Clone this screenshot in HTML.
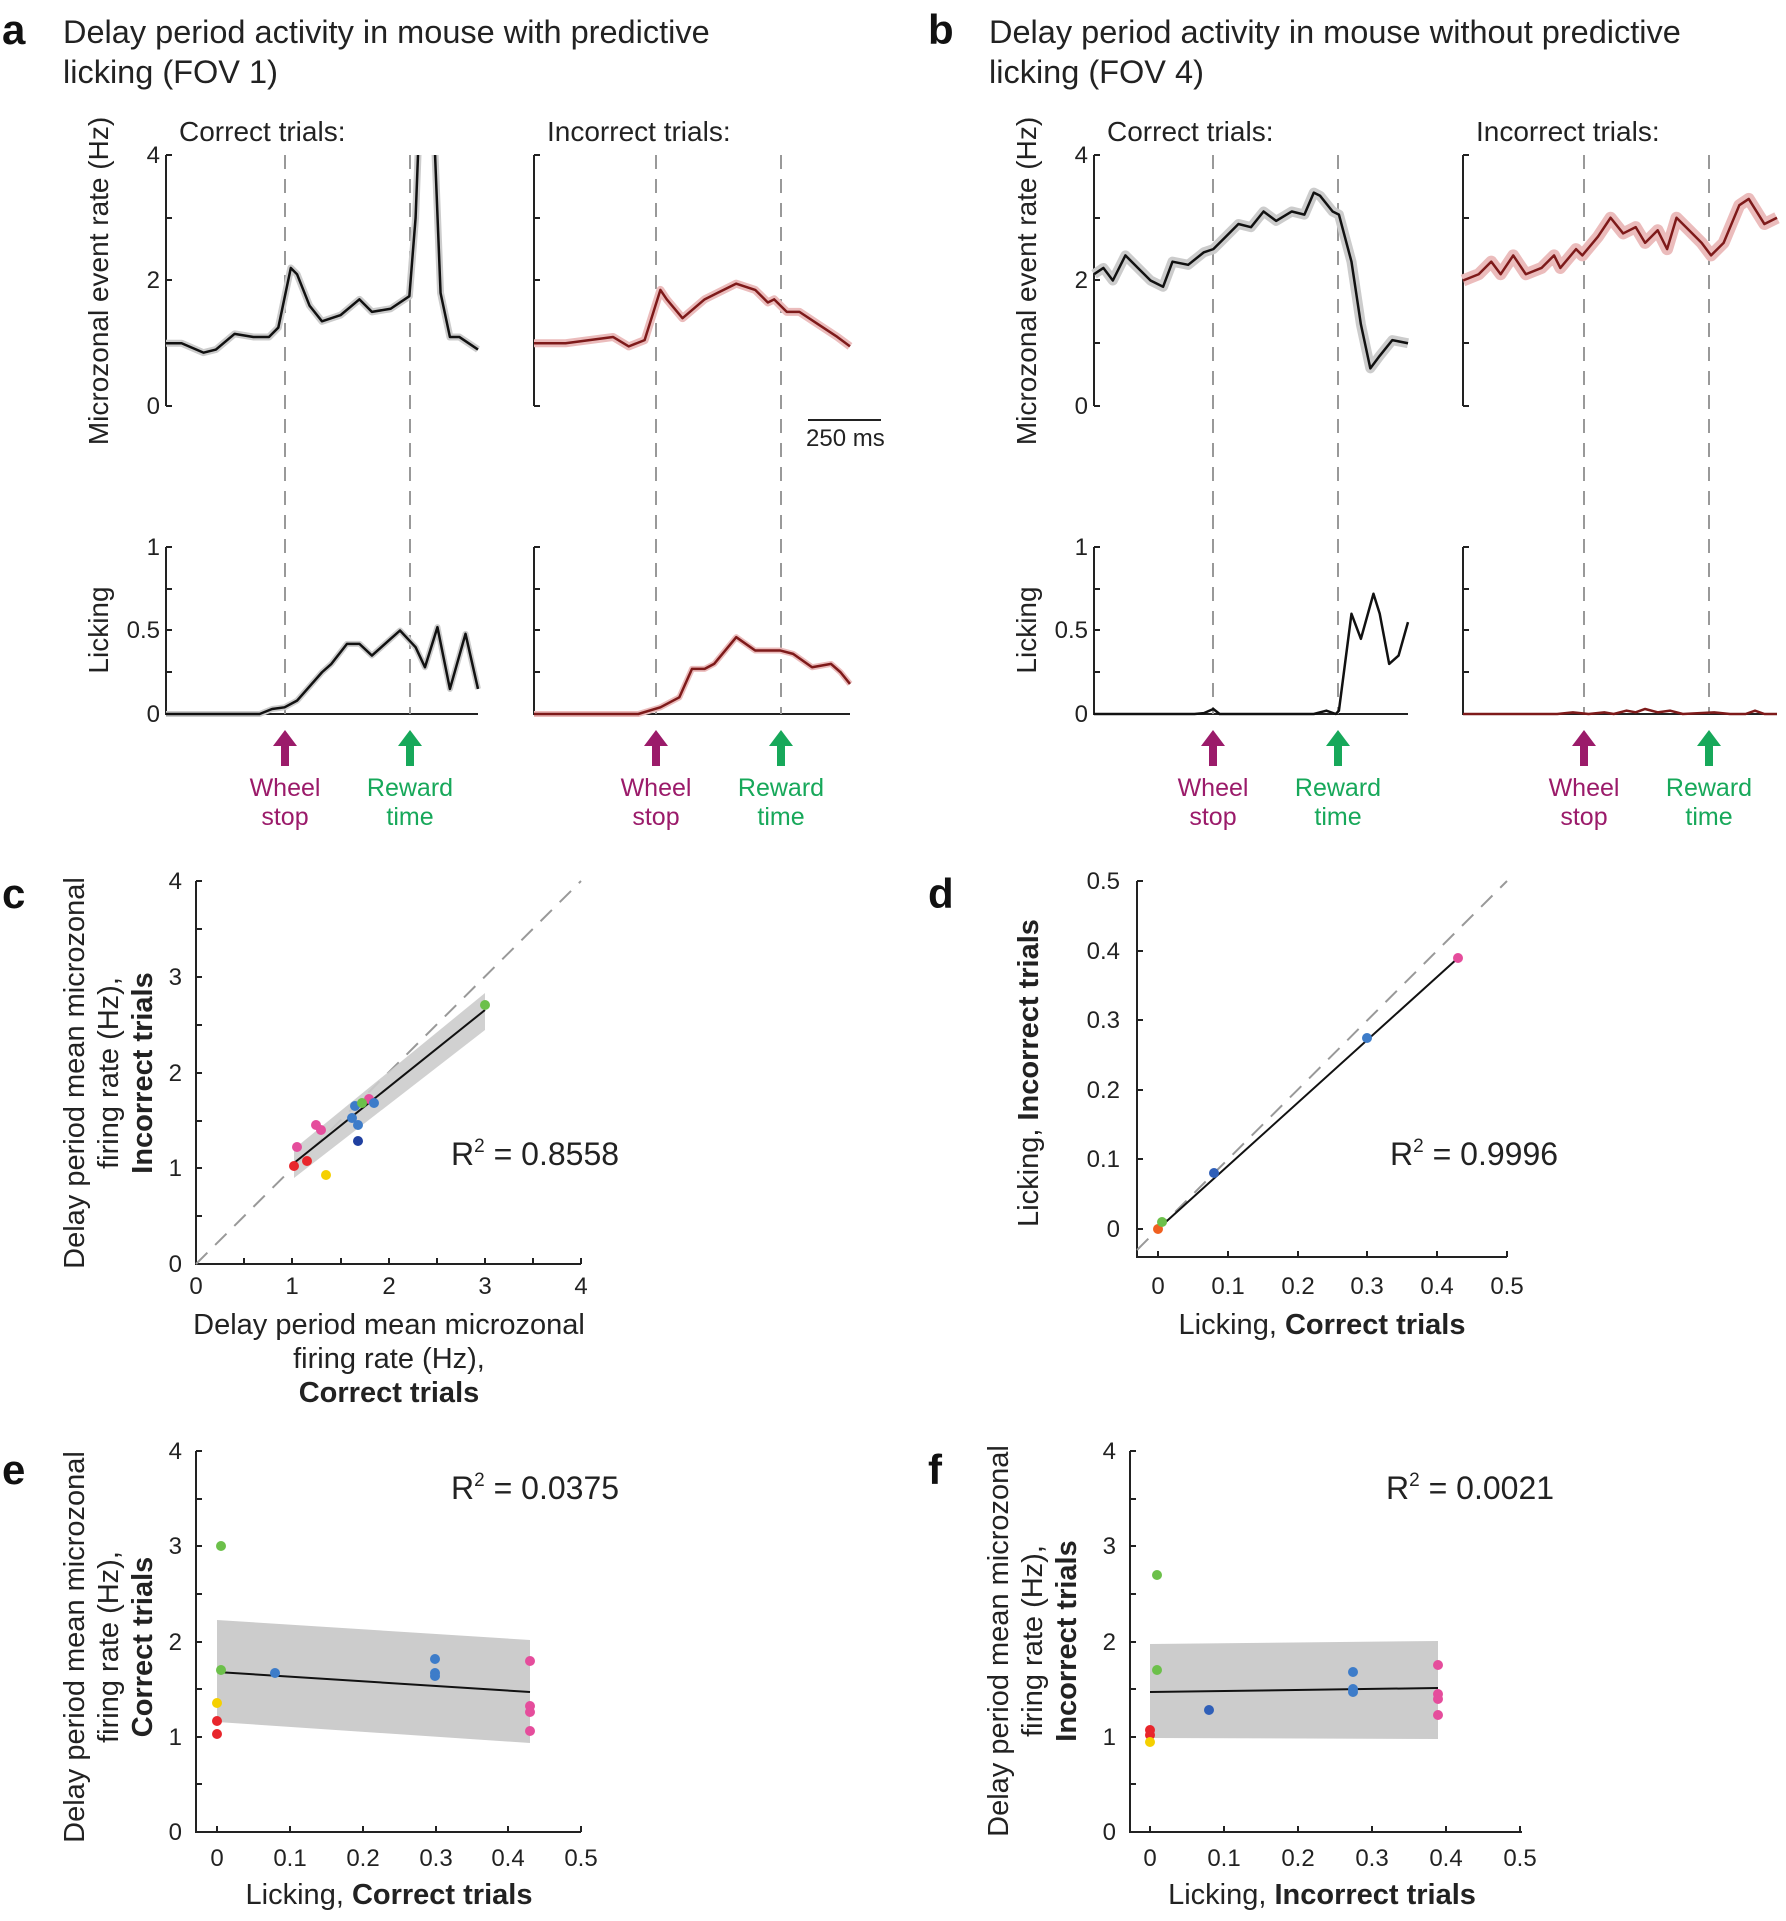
<!DOCTYPE html>
<html><head><meta charset="utf-8"><style>
html,body{margin:0;padding:0;background:#fff}
svg{display:block;font-family:"Liberation Sans",Arial,sans-serif}
.t{font-size:24px;fill:#222}
.l{font-size:28px;fill:#222}
.l2{font-size:29px;fill:#222}
.ln{vector-effect:non-scaling-stroke;fill:none;stroke-linejoin:round}
</style></head><body>
<svg width="1786" height="1921" viewBox="0 0 1786 1921" xmlns="http://www.w3.org/2000/svg">
<defs>
<g id="arrP"><path d="M-4,36 L-4,16 L-12,16 L0,0 L12,16 L4,16 L4,36 Z" fill="#9b1b6a"/></g>
<g id="arrG"><path d="M-4,36 L-4,16 L-12,16 L0,0 L12,16 L4,16 L4,36 Z" fill="#17a85a"/></g>
<clipPath id="clipA"><rect x="160" y="155" width="330" height="260"/></clipPath>
</defs>
<!-- titles -->
<text x="2" y="44" font-size="42" font-weight="bold" fill="#111">a</text>
<text x="63" y="43" font-size="32.5" fill="#222">Delay period activity in mouse with predictive</text>
<text x="63" y="83" font-size="32.5" fill="#222">licking (FOV 1)</text>
<text x="928" y="44" font-size="42" font-weight="bold" fill="#111">b</text>
<text x="989" y="43" font-size="32.5" fill="#222">Delay period activity in mouse without predictive</text>
<text x="989" y="83" font-size="32.5" fill="#222">licking (FOV 4)</text>

<text x="179" y="141" class="l">Correct trials:</text>
<text x="547" y="141" class="l">Incorrect trials:</text>
<text x="1107" y="141" class="l">Correct trials:</text>
<text x="1476" y="141" class="l">Incorrect trials:</text>

<text transform="translate(108,281) rotate(-90)" text-anchor="middle" class="l">Microzonal event rate (Hz)</text>
<text transform="translate(108,630) rotate(-90)" text-anchor="middle" class="l">Licking</text>
<text transform="translate(1036,281) rotate(-90)" text-anchor="middle" class="l">Microzonal event rate (Hz)</text>
<text transform="translate(1036,630) rotate(-90)" text-anchor="middle" class="l">Licking</text>

<g stroke="#222" stroke-width="2" fill="none">
<path d="M166,155 V406 M166,155 h6 M166,218 h6 M166,280 h6 M166,343 h6 M166,406 h6"/>
<path d="M534,155 V406 M534,155 h6 M534,218 h6 M534,280 h6 M534,343 h6 M534,406 h6"/>
<path d="M1094,155 V406 M1094,155 h6 M1094,218 h6 M1094,280 h6 M1094,343 h6 M1094,406 h6"/>
<path d="M1463,155 V406 M1463,155 h6 M1463,218 h6 M1463,280 h6 M1463,343 h6 M1463,406 h6"/>
<path d="M166,547 V714 H478 M166,547 h6 M166,589 h6 M166,630 h6 M166,672 h6"/>
<path d="M534,547 V714 H850 M534,547 h6 M534,589 h6 M534,630 h6 M534,672 h6"/>
<path d="M1094,547 V714 H1408 M1094,547 h6 M1094,589 h6 M1094,630 h6 M1094,672 h6"/>
<path d="M1463,547 V714 H1777 M1463,547 h6 M1463,589 h6 M1463,630 h6 M1463,672 h6"/>
</g>
<g class="t" text-anchor="end">
<text x="160" y="163">4</text><text x="160" y="288">2</text><text x="160" y="414">0</text>
<text x="1088" y="163">4</text><text x="1088" y="288">2</text><text x="1088" y="414">0</text>
<text x="160" y="555">1</text><text x="160" y="638">0.5</text><text x="160" y="722">0</text>
<text x="1088" y="555">1</text><text x="1088" y="638">0.5</text><text x="1088" y="722">0</text>
</g>
<g stroke="#999" stroke-width="2" stroke-dasharray="14,10">
<path d="M285,155V714 M410,155V714 M656,155V714 M781,155V714 M1213,155V714 M1338,155V714 M1584,155V714 M1709,155V714"/>
</g>
<path d="M808,420 H881" stroke="#222" stroke-width="2"/>
<text x="806" y="446" class="t">250 ms</text>

<g clip-path="url(#clipA)">
<g transform="translate(166,406) scale(3.12,-62.75)">
<polyline class="ln" stroke="#ccc" stroke-width="7" points="0,1 5,1 12,0.85 16,0.9 22,1.15 28,1.1 33,1.1 36,1.25 40,2.2 42,2.1 46,1.6 50,1.35 56,1.45 62,1.7 66,1.5 72,1.55 78,1.75 80,3 81,4.3 86,4.3 88,1.8 91,1.1 94,1.1 100,0.9"/>
<polyline class="ln" stroke="#111" stroke-width="2.5" points="0,1 5,1 12,0.85 16,0.9 22,1.15 28,1.1 33,1.1 36,1.25 40,2.2 42,2.1 46,1.6 50,1.35 56,1.45 62,1.7 66,1.5 72,1.55 78,1.75 80,3 81,4.3 86,4.3 88,1.8 91,1.1 94,1.1 100,0.9"/>
</g>
</g>
<g transform="translate(534,406) scale(3.16,-62.75)">
<polyline class="ln" stroke="#ebbcbc" stroke-width="8" points="0,1 10,1 25,1.1 30,0.95 35,1.05 40,1.85 42,1.7 47,1.4 54,1.7 58,1.8 64,1.95 70,1.85 74,1.65 76,1.7 80,1.5 84,1.5 90,1.3 96,1.1 100,0.95"/>
<polyline class="ln" stroke="#7e1a1a" stroke-width="2.5" points="0,1 10,1 25,1.1 30,0.95 35,1.05 40,1.85 42,1.7 47,1.4 54,1.7 58,1.8 64,1.95 70,1.85 74,1.65 76,1.7 80,1.5 84,1.5 90,1.3 96,1.1 100,0.95"/>
</g>
<g transform="translate(166,714) scale(3.12,-167)">
<polyline class="ln" stroke="#ccc" stroke-width="6" points="0,0 30,0 34,0.03 38,0.04 42,0.08 50,0.25 53,0.3 58,0.42 62,0.42 66,0.35 72,0.45 75,0.5 80,0.4 83,0.28 87,0.52 91,0.15 96,0.48 100,0.15"/>
<polyline class="ln" stroke="#111" stroke-width="2.5" points="0,0 30,0 34,0.03 38,0.04 42,0.08 50,0.25 53,0.3 58,0.42 62,0.42 66,0.35 72,0.45 75,0.5 80,0.4 83,0.28 87,0.52 91,0.15 96,0.48 100,0.15"/>
</g>
<g transform="translate(534,714) scale(3.16,-167)">
<polyline class="ln" stroke="#ebbcbc" stroke-width="6" points="0,0 33,0 40,0.04 46,0.1 50,0.27 54,0.27 57,0.3 64,0.46 70,0.38 78,0.38 82,0.36 88,0.28 94,0.3 97,0.25 100,0.18"/>
<polyline class="ln" stroke="#7e1a1a" stroke-width="2.5" points="0,0 33,0 40,0.04 46,0.1 50,0.27 54,0.27 57,0.3 64,0.46 70,0.38 78,0.38 82,0.36 88,0.28 94,0.3 97,0.25 100,0.18"/>
</g>
<g transform="translate(1094,406) scale(3.14,-62.75)">
<polyline class="ln" stroke="#ccc" stroke-width="10" points="0,2.1 3,2.2 6,2 10,2.4 14,2.2 18,2 22,1.9 25,2.3 30,2.25 35,2.45 38,2.5 42,2.7 46,2.9 50,2.85 54,3.1 58,2.95 63,3.1 67,3.05 70,3.4 72,3.35 76,3.1 78,3.05 82,2.3 85,1.3 88,0.6 91,0.8 95,1.05 100,1"/>
<polyline class="ln" stroke="#111" stroke-width="2.5" points="0,2.1 3,2.2 6,2 10,2.4 14,2.2 18,2 22,1.9 25,2.3 30,2.25 35,2.45 38,2.5 42,2.7 46,2.9 50,2.85 54,3.1 58,2.95 63,3.1 67,3.05 70,3.4 72,3.35 76,3.1 78,3.05 82,2.3 85,1.3 88,0.6 91,0.8 95,1.05 100,1"/>
</g>
<g transform="translate(1463,406) scale(3.14,-62.75)">
<polyline class="ln" stroke="#ebbcbc" stroke-width="12" points="0,2 5,2.1 9,2.3 12,2.1 16,2.4 20,2.1 25,2.2 29,2.4 31,2.2 36,2.5 38,2.4 43,2.7 47,3 51,2.75 55,2.85 58,2.6 62,2.8 65,2.5 68,3 72,2.8 76,2.6 79,2.4 83,2.6 88,3.2 91,3.3 96,2.9 100,3"/>
<polyline class="ln" stroke="#7e1a1a" stroke-width="2.5" points="0,2 5,2.1 9,2.3 12,2.1 16,2.4 20,2.1 25,2.2 29,2.4 31,2.2 36,2.5 38,2.4 43,2.7 47,3 51,2.75 55,2.85 58,2.6 62,2.8 65,2.5 68,3 72,2.8 76,2.6 79,2.4 83,2.6 88,3.2 91,3.3 96,2.9 100,3"/>
</g>
<g transform="translate(1094,714) scale(3.14,-167)">
<polyline class="ln" stroke="#111" stroke-width="2.5" points="0,0 32,0 35,0.005 38,0.03 40,0 70,0 74,0.02 77,0 78,0.02 82,0.6 85,0.45 89,0.72 91,0.6 94,0.3 97,0.35 100,0.55"/>
</g>
<g transform="translate(1463,714) scale(3.14,-167)">
<polyline class="ln" stroke="#7e1a1a" stroke-width="2.5" points="0,0 30,0 35,0.01 40,0 45,0.01 48,0 52,0.02 55,0.01 58,0.03 62,0.01 66,0.02 70,0 80,0.01 85,0 90,0 93,0.02 96,0 100,0"/>
</g>
<use href="#arrP" x="285" y="730"/><use href="#arrG" x="410" y="730"/>
<use href="#arrP" x="656" y="730"/><use href="#arrG" x="781" y="730"/>
<use href="#arrP" x="1213" y="730"/><use href="#arrG" x="1338" y="730"/>
<use href="#arrP" x="1584" y="730"/><use href="#arrG" x="1709" y="730"/>
<g font-size="25" text-anchor="middle">
<g fill="#9b1b6a"><text x="285" y="796">Wheel</text><text x="285" y="825">stop</text>
<text x="656" y="796">Wheel</text><text x="656" y="825">stop</text>
<text x="1213" y="796">Wheel</text><text x="1213" y="825">stop</text>
<text x="1584" y="796">Wheel</text><text x="1584" y="825">stop</text></g>
<g fill="#17a85a"><text x="410" y="796">Reward</text><text x="410" y="825">time</text>
<text x="781" y="796">Reward</text><text x="781" y="825">time</text>
<text x="1338" y="796">Reward</text><text x="1338" y="825">time</text>
<text x="1709" y="796">Reward</text><text x="1709" y="825">time</text></g>
</g>

<!-- panel c -->
<text x="2" y="908" font-size="42" font-weight="bold" fill="#111">c</text>
<g stroke="#222" stroke-width="2" fill="none">
<path d="M196,881 V1264 H581"/>
<path d="M196,881 h6 M196,929 h6 M196,977 h6 M196,1025 h6 M196,1073 h6 M196,1121 h6 M196,1168 h6 M196,1216 h6 M244,1264 v-6 M292,1264 v-6 M341,1264 v-6 M389,1264 v-6 M437,1264 v-6 M485,1264 v-6 M533,1264 v-6 M581,1264 v-6"/>
</g>
<g class="t" text-anchor="end"><text x="182" y="889">4</text><text x="182" y="985">3</text><text x="182" y="1081">2</text><text x="182" y="1176">1</text><text x="182" y="1272">0</text></g>
<g class="t" text-anchor="middle"><text x="196" y="1294">0</text><text x="292" y="1294">1</text><text x="389" y="1294">2</text><text x="485" y="1294">3</text><text x="581" y="1294">4</text></g>
<path d="M196,1264 L581,881" stroke="#999" stroke-width="2" stroke-dasharray="16,11"/>
<polygon points="294,1178 294,1149 485,993 485,1030" fill="#ccc" opacity="0.9"/>
<path d="M294,1163 L485,1010" stroke="#111" stroke-width="2"/>
<g>
<circle cx="294" cy="1166" r="5" fill="#e8262c"/><circle cx="307" cy="1161" r="5" fill="#e8262c"/>
<circle cx="297" cy="1147" r="5" fill="#e54d9c"/><circle cx="316" cy="1125" r="5" fill="#e54d9c"/><circle cx="321" cy="1130" r="5" fill="#e54d9c"/><circle cx="369" cy="1099" r="5" fill="#e54d9c"/>
<circle cx="326" cy="1175" r="5" fill="#f5d000"/>
<circle cx="352" cy="1118" r="5" fill="#3d7cc9"/><circle cx="355" cy="1106" r="5" fill="#3d7cc9"/><circle cx="358" cy="1125" r="5" fill="#3d7cc9"/><circle cx="374" cy="1103" r="5" fill="#3d7cc9"/>
<circle cx="358" cy="1141" r="5" fill="#2040a0"/>
<circle cx="362" cy="1103" r="5" fill="#6cc04a"/><circle cx="485" cy="1005" r="5" fill="#6cc04a"/>
</g>
<text x="451" y="1165" font-size="32" fill="#222">R<tspan font-size="19" dy="-13">2</tspan><tspan dy="13"> = 0.8558</tspan></text>
<g class="l2" text-anchor="middle">
<text x="389" y="1334">Delay period mean microzonal</text>
<text x="389" y="1368">firing rate (Hz),</text>
<text x="389" y="1402" font-weight="bold">Correct trials</text>
</g>
<g class="l2" text-anchor="middle">
<text transform="translate(84,1073) rotate(-90)">Delay period mean microzonal</text>
<text transform="translate(118,1073) rotate(-90)">firing rate (Hz),</text>
<text transform="translate(152,1073) rotate(-90)" font-weight="bold">Incorrect trials</text>
</g>

<!-- panel d -->
<text x="928" y="908" font-size="42" font-weight="bold" fill="#111">d</text>
<g stroke="#222" stroke-width="2" fill="none">
<path d="M1137,881 V1257 H1507"/>
<path d="M1137,881 h6 M1137,951 h6 M1137,1020 h6 M1137,1090 h6 M1137,1159 h6 M1137,1229 h6 M1158,1257 v-6 M1228,1257 v-6 M1298,1257 v-6 M1367,1257 v-6 M1437,1257 v-6 M1507,1257 v-6"/>
</g>
<g class="t" text-anchor="end"><text x="1120" y="889">0.5</text><text x="1120" y="959">0.4</text><text x="1120" y="1028">0.3</text><text x="1120" y="1098">0.2</text><text x="1120" y="1167">0.1</text><text x="1120" y="1237">0</text></g>
<g class="t" text-anchor="middle"><text x="1158" y="1294">0</text><text x="1228" y="1294">0.1</text><text x="1298" y="1294">0.2</text><text x="1367" y="1294">0.3</text><text x="1437" y="1294">0.4</text><text x="1507" y="1294">0.5</text></g>
<path d="M1137,1250 L1507,881" stroke="#999" stroke-width="2" stroke-dasharray="16,11"/>
<path d="M1158,1229 L1458,958" stroke="#111" stroke-width="2"/>
<circle cx="1158" cy="1229" r="5" fill="#f06020"/><circle cx="1162" cy="1222" r="5" fill="#6cc04a"/>
<circle cx="1214" cy="1173" r="5" fill="#2f5fb8"/><circle cx="1367" cy="1038" r="5" fill="#3d7cc9"/><circle cx="1458" cy="958" r="5" fill="#e54d9c"/>
<text x="1390" y="1165" font-size="32" fill="#222">R<tspan font-size="19" dy="-13">2</tspan><tspan dy="13"> = 0.9996</tspan></text>
<text x="1322" y="1334" class="l2" text-anchor="middle">Licking, <tspan font-weight="bold">Correct trials</tspan></text>
<text transform="translate(1038,1073) rotate(-90)" class="l2" text-anchor="middle">Licking, <tspan font-weight="bold">Incorrect trials</tspan></text>

<!-- panel e -->
<text x="2" y="1484" font-size="42" font-weight="bold" fill="#111">e</text>
<g stroke="#222" stroke-width="2" fill="none">
<path d="M196,1451 V1832 H581"/>
<path d="M196,1451 h6 M196,1499 h6 M196,1546 h6 M196,1594 h6 M196,1642 h6 M196,1689 h6 M196,1737 h6 M196,1784 h6 M217,1832 v-6 M290,1832 v-6 M363,1832 v-6 M436,1832 v-6 M508,1832 v-6 M581,1832 v-6"/>
</g>
<g class="t" text-anchor="end"><text x="182" y="1459">4</text><text x="182" y="1554">3</text><text x="182" y="1650">2</text><text x="182" y="1745">1</text><text x="182" y="1840">0</text></g>
<g class="t" text-anchor="middle"><text x="217" y="1866">0</text><text x="290" y="1866">0.1</text><text x="363" y="1866">0.2</text><text x="436" y="1866">0.3</text><text x="508" y="1866">0.4</text><text x="581" y="1866">0.5</text></g>
<polygon points="217,1620 530,1640 530,1743 217,1722" fill="#ccc"/>
<path d="M217,1672 L530,1692" stroke="#111" stroke-width="2"/>
<circle cx="221" cy="1546" r="5" fill="#6cc04a"/><circle cx="221" cy="1670" r="5" fill="#6cc04a"/>
<circle cx="217" cy="1703" r="5" fill="#f5d000"/><circle cx="217" cy="1721" r="5" fill="#e8262c"/><circle cx="217" cy="1734" r="5" fill="#e8262c"/>
<circle cx="275" cy="1673" r="5" fill="#3d7cc9"/><circle cx="435" cy="1659" r="5" fill="#3d7cc9"/><circle cx="435" cy="1673" r="5" fill="#3d7cc9"/><circle cx="435" cy="1676" r="5" fill="#3d7cc9"/>
<circle cx="530" cy="1661" r="5" fill="#e54d9c"/><circle cx="530" cy="1706" r="5" fill="#e54d9c"/><circle cx="530" cy="1712" r="5" fill="#e54d9c"/><circle cx="530" cy="1731" r="5" fill="#e54d9c"/>
<text x="451" y="1499" font-size="32" fill="#222">R<tspan font-size="19" dy="-13">2</tspan><tspan dy="13"> = 0.0375</tspan></text>
<text x="389" y="1904" class="l2" text-anchor="middle">Licking, <tspan font-weight="bold">Correct trials</tspan></text>
<g class="l2" text-anchor="middle">
<text transform="translate(84,1647) rotate(-90)">Delay period mean microzonal</text>
<text transform="translate(118,1647) rotate(-90)">firing rate (Hz),</text>
<text transform="translate(152,1647) rotate(-90)" font-weight="bold">Correct trials</text>
</g>

<!-- panel f -->
<text x="928" y="1484" font-size="42" font-weight="bold" fill="#111">f</text>
<g stroke="#222" stroke-width="2" fill="none">
<path d="M1130,1451 V1832 H1522"/>
<path d="M1130,1451 h6 M1130,1499 h6 M1130,1546 h6 M1130,1594 h6 M1130,1642 h6 M1130,1689 h6 M1130,1737 h6 M1130,1784 h6 M1150,1832 v-6 M1224,1832 v-6 M1298,1832 v-6 M1372,1832 v-6 M1446,1832 v-6 M1520,1832 v-6"/>
</g>
<g class="t" text-anchor="end"><text x="1116" y="1459">4</text><text x="1116" y="1554">3</text><text x="1116" y="1650">2</text><text x="1116" y="1745">1</text><text x="1116" y="1840">0</text></g>
<g class="t" text-anchor="middle"><text x="1150" y="1866">0</text><text x="1224" y="1866">0.1</text><text x="1298" y="1866">0.2</text><text x="1372" y="1866">0.3</text><text x="1446" y="1866">0.4</text><text x="1520" y="1866">0.5</text></g>
<polygon points="1150,1644 1438,1641 1438,1739 1150,1738" fill="#ccc"/>
<path d="M1150,1692 L1438,1688" stroke="#111" stroke-width="2"/>
<circle cx="1157" cy="1575" r="5" fill="#6cc04a"/><circle cx="1157" cy="1670" r="5" fill="#6cc04a"/>
<circle cx="1150" cy="1730" r="5" fill="#e8262c"/><circle cx="1150" cy="1735" r="5" fill="#e8262c"/><circle cx="1150" cy="1742" r="5" fill="#f5d000"/>
<circle cx="1209" cy="1710" r="5" fill="#2f5fb8"/>
<circle cx="1353" cy="1672" r="5" fill="#3d7cc9"/><circle cx="1353" cy="1689" r="5" fill="#3d7cc9"/><circle cx="1353" cy="1692" r="5" fill="#3d7cc9"/>
<circle cx="1438" cy="1665" r="5" fill="#e54d9c"/><circle cx="1438" cy="1694" r="5" fill="#e54d9c"/><circle cx="1438" cy="1699" r="5" fill="#e54d9c"/><circle cx="1438" cy="1715" r="5" fill="#e54d9c"/>
<text x="1386" y="1499" font-size="32" fill="#222">R<tspan font-size="19" dy="-13">2</tspan><tspan dy="13"> = 0.0021</tspan></text>
<text x="1322" y="1904" class="l2" text-anchor="middle">Licking, <tspan font-weight="bold">Incorrect trials</tspan></text>
<g class="l2" text-anchor="middle">
<text transform="translate(1008,1641) rotate(-90)">Delay period mean microzonal</text>
<text transform="translate(1042,1641) rotate(-90)">firing rate (Hz),</text>
<text transform="translate(1076,1641) rotate(-90)" font-weight="bold">Incorrect trials</text>
</g>
</svg>
</body></html>
